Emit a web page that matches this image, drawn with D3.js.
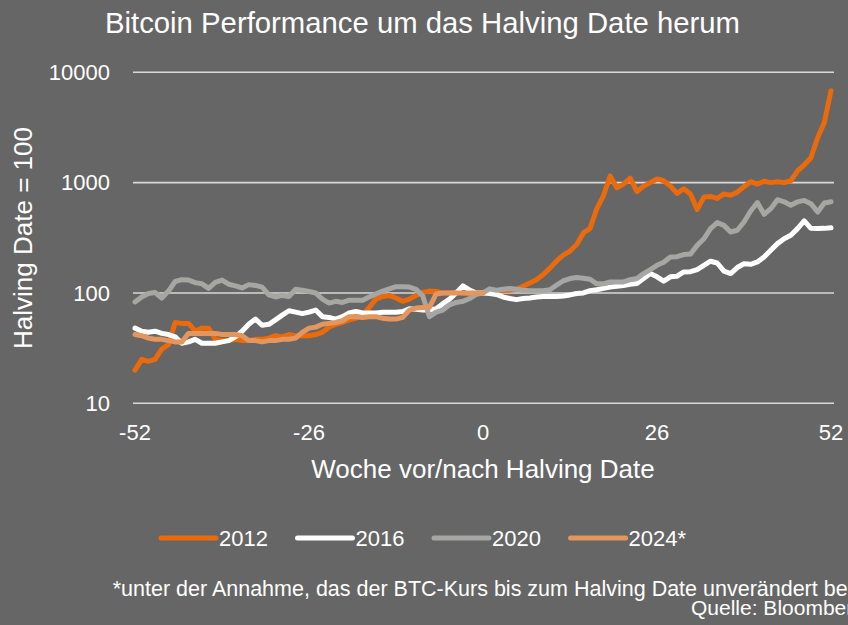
<!DOCTYPE html>
<html>
<head>
<meta charset="utf-8">
<script src="https://cdn.jsdelivr.net/npm/d3@7"></script>
<style>
html,body{margin:0;padding:0;background:#666666;}
svg{display:block;}
text{font-family:"Liberation Sans",Arial,sans-serif;fill:#ffffff;}
</style>
</head>
<body>
<svg id="chart" width="848" height="625"></svg>
<script>
const weeks = d3.range(-52, 53);
const weeks2024 = d3.range(-52, 1);

const s2012 = [20,25,24,25,31,34,54,53,53,45,48,48,38,37,37,38,37,37,38,38,39,41,40,42,41,41,41,42,44,49,52,54,57,59,63,74,88,93,95,90,84,88,95,101,104,103,100,100,102,100,99,99,100,102,104,105,106,108,115,123,132,147,168,195,220,240,275,350,385,580,760,1150,900,970,1100,830,930,1000,1080,1040,930,800,880,790,570,740,750,720,790,770,820,920,1020,970,1030,1000,1020,1000,1040,1280,1450,1680,2550,3500,6800];
const s2016 = [48,45,44,45,43,42,40,35,36,38,35,35,35,36,37,40,45,52,58,51,52,57,63,69,67,65,67,70,61,60,58,61,66,68,66,66,66,67,67,67,68,72,71,70,70,72,80,88,100,116,106,100,100,99,97,92,89,87,89,90,92,93,93,93,94,96,99,100,105,107,110,113,115,117,120,122,135,150,140,128,140,142,155,156,163,178,194,187,158,150,170,184,182,191,212,244,280,310,333,383,450,385,383,385,390];
const s2020 = [83,92,99,101,90,104,127,132,131,124,121,110,125,131,120,116,111,119,117,113,96,92,95,93,108,106,103,100,88,81,84,82,86,86,86,92,98,104,109,114,114,113,108,94,61,67,70,78,82,84,89,97,100,109,106,108,110,108,106,105,105,105,107,118,129,135,138,136,133,121,121,126,126,126,132,135,150,163,178,190,212,213,223,225,270,310,383,434,410,357,370,440,553,660,516,581,700,670,623,670,690,645,542,655,670];
const s2024 = [42,41,39,38,38,37,36,36,43,43,43,43,43,42,42,42,41,37,37,36,37,37,38,38,39,44,48,49,52,53,54,56,61,61,60,61,61,59,58,58,60,70,73,74,74,98,100,100,100,100,100,100,100];

const seriesNames = ["2012","2016","2020","2024*"];
const seriesColors = ["#EA6A0C","#FFFFFF","#A6A6A4","#E4965F"];
const xTicks = [-52,-26,0,26,52];
const yTicks = [10,100,1000,10000];

const series = [
  {name: seriesNames[0], color: seriesColors[0], x: weeks, y: s2012},
  {name: seriesNames[1], color: seriesColors[1], x: weeks, y: s2016},
  {name: seriesNames[2], color: seriesColors[2], x: weeks, y: s2020},
  {name: seriesNames[3], color: seriesColors[3], x: weeks2024, y: s2024}
];

const svg = d3.select("#chart");
svg.append("rect").attr("width",848).attr("height",625).attr("fill","#666666");

const x = d3.scaleLinear().domain([-52,52]).range([135,831]);
const y = d3.scaleLog().domain([10,10000]).range([403.3,72.3]);

// gridlines
svg.append("g").selectAll("line").data(yTicks).join("line")
  .attr("x1",133).attr("x2",834)
  .attr("y1",d=>y(d)).attr("y2",d=>y(d))
  .attr("stroke","#D9D9D9").attr("stroke-width",1.6);

// y tick labels
svg.append("g").selectAll("text").data(yTicks).join("text")
  .attr("x",110).attr("y",d=>y(d)+7.8)
  .attr("text-anchor","end").attr("font-size",22)
  .text(d=>d);

// x tick labels
svg.append("g").selectAll("text").data(xTicks).join("text")
  .attr("x",d=>x(d)).attr("y",440)
  .attr("text-anchor","middle").attr("font-size",22)
  .text(d=>d);

// lines
const line = d3.line().x(d=>x(d[0])).y(d=>y(d[1]));
svg.append("g").selectAll("path").data(series).join("path")
  .attr("d",s=>line(s.x.map((w,i)=>[w,s.y[i]])))
  .attr("fill","none").attr("stroke",s=>s.color)
  .attr("stroke-width",5).attr("stroke-linejoin","round").attr("stroke-linecap","round");

// title
svg.append("text").attr("x",422.5).attr("y",33).attr("text-anchor","middle")
  .attr("font-size",29.3).text("Bitcoin Performance um das Halving Date herum");

// axis titles
svg.append("text").attr("x",483).attr("y",478).attr("text-anchor","middle")
  .attr("font-size",26).text("Woche vor/nach Halving Date");
svg.append("text").attr("transform","translate(32,238) rotate(-90)")
  .attr("text-anchor","middle").attr("font-size",26).text("Halving Date = 100");

// legend
const legX = [161,297.5,434,570.6];
const leg = svg.append("g").selectAll("g").data(series).join("g")
  .attr("transform",(d,i)=>`translate(${legX[i]},538)`);
leg.append("line").attr("x1",0).attr("x2",55).attr("y1",0).attr("y2",0)
  .attr("stroke",d=>d.color).attr("stroke-width",5).attr("stroke-linecap","round");
leg.append("text").attr("x",58).attr("y",8).attr("font-size",22).text(d=>d.name);

// footnotes
svg.append("text").attr("x",112.7).attr("y",596).attr("font-size",21.5)
  .text("*unter der Annahme, das der BTC-Kurs bis zum Halving Date unverändert beibehalten wird");
svg.append("text").attr("x",691).attr("y",615).attr("font-size",21)
  .text("Quelle: Bloomberg");
</script>
</body>
</html>
